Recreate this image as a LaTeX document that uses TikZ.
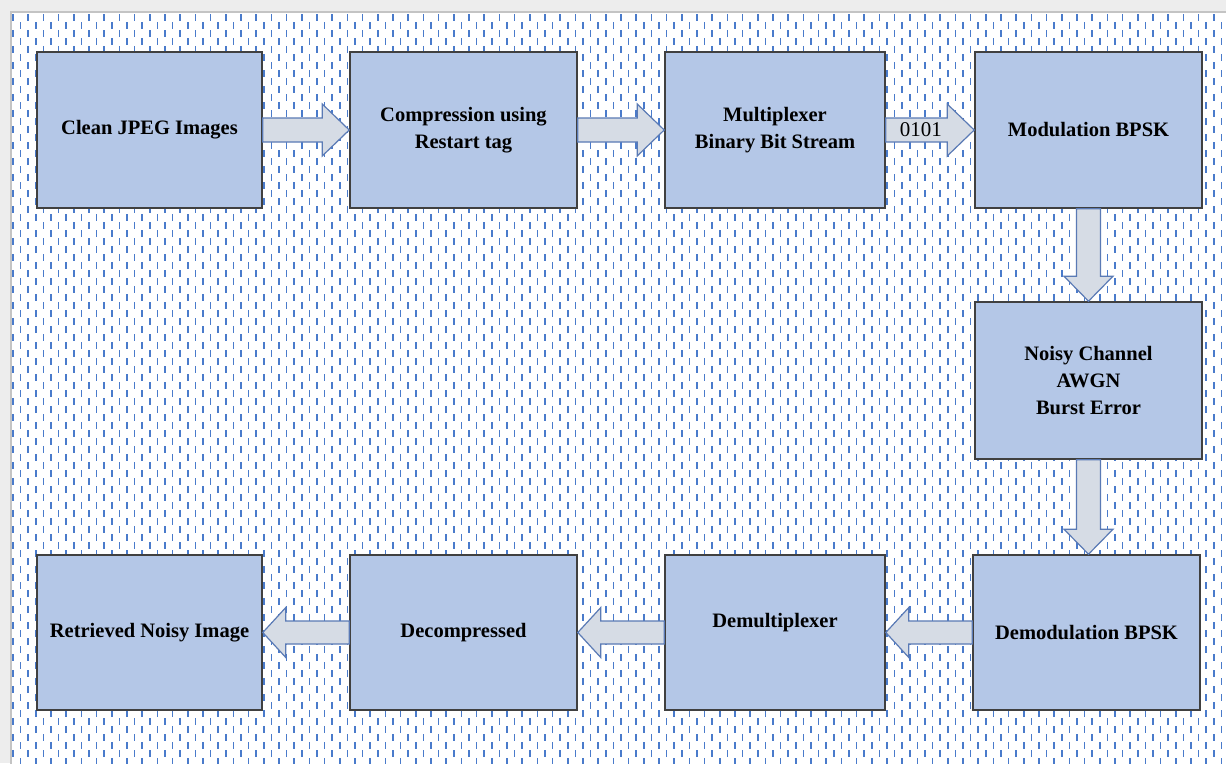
\documentclass[tikz,border=0pt]{standalone}
\usepackage{fontspec}
\setmainfont{Liberation Serif}
\usetikzlibrary{calc}
\definecolor{boxfill}{HTML}{B4C7E7}
\definecolor{boxline}{HTML}{404040}
\definecolor{arrfill}{HTML}{D6DCE5}
\definecolor{arrline}{HTML}{5A7AB5}
\definecolor{dashblue}{HTML}{4A7BCB}
\definecolor{outergray}{HTML}{EDEDED}
\definecolor{framegray}{HTML}{C4C4C4}
\tikzset{
  stepbox/.style={draw=boxline, line width=1.6pt, fill=boxfill, align=center,
    font=\fontsize{20.5}{27}\selectfont\bfseries, inner sep=0pt},
  barrow/.style={draw=arrline, line width=1.2pt, fill=arrfill, line join=miter},
  dashline/.style={draw=dashblue, line width=1.5pt, dash pattern=on 6.5pt off 9.5pt},
  lbl/.style={font=\fontsize{21}{24}\selectfont, inner sep=0pt}
}
% block arrows between named nodes
\newcommand{\blkR}[2]{%
  \draw[barrow] ($(#1.east)+(0,-12)$) -- ($(#2.west |- #1.east)+(-27,-12)$)
    -- ($(#2.west |- #1.east)+(-27,-26)$) -- (#2.west |- #1.east)
    -- ($(#2.west |- #1.east)+(-27,26)$) -- ($(#2.west |- #1.east)+(-27,12)$)
    -- ($(#1.east)+(0,12)$) -- cycle;}
\newcommand{\blkL}[2]{%
  \draw[barrow] ($(#1.west)+(0,-11.5)$) -- ($(#2.east |- #1.west)+(23,-11.5)$)
    -- ($(#2.east |- #1.west)+(23,-25)$) -- (#2.east |- #1.west)
    -- ($(#2.east |- #1.west)+(23,25)$) -- ($(#2.east |- #1.west)+(23,11.5)$)
    -- ($(#1.west)+(0,11.5)$) -- cycle;}
\newcommand{\blkD}[2]{%
  \draw[barrow] ($(#1.south)+(-12,0)$) -- ($(#1.south |- #2.north)+(-12,-25)$)
    -- ($(#1.south |- #2.north)+(-24.5,-25)$) -- (#1.south |- #2.north)
    -- ($(#1.south |- #2.north)+(24.5,-25)$) -- ($(#1.south |- #2.north)+(12,-25)$)
    -- ($(#1.south)+(12,0)$) -- cycle;}
\begin{document}
\begin{tikzpicture}[x=1pt,y=-1pt]
\useasboundingbox (0,0) rectangle (1226,763);
\begin{scope}
\clip (0,0) rectangle (1226,763);
\fill[outergray] (0,0) rectangle (1226,763);
\filldraw[fill=white, draw=framegray, line width=1.2pt] (11,12) rectangle (1240,780);
\foreach \i [evaluate=\i as \xx using {13+7.6*\i}, evaluate=\i as \ph using {8*mod(\i,2)}] in {0,...,160}
  \draw[dashline, dash phase=\ph pt] (\xx,14) -- (\xx,766);
\end{scope}

% top row
\node[stepbox, minimum width=225pt, minimum height=156pt] (clean) at (149.5,130) {Clean JPEG Images};
\node[stepbox, minimum width=227pt, minimum height=156pt] (comp) at (463.5,130) {Compression using\\Restart tag};
\node[stepbox, minimum width=220pt, minimum height=156pt] (mux) at (775,130) {Multiplexer\\Binary Bit Stream};
\node[stepbox, minimum width=227pt, minimum height=156pt] (mod) at (1088.5,130) {Modulation BPSK};
% right column
\node[stepbox, minimum width=227pt, minimum height=157pt] (noisy) at (1088.5,380.5) {Noisy Channel\\AWGN\\Burst Error};
% bottom row
\node[stepbox, minimum width=227pt, minimum height=155pt] (demod) at (1086.5,632.5) {Demodulation BPSK};
\node[stepbox, minimum width=220pt, minimum height=155pt, text depth=24pt] (demux) at (775,632.5) {Demultiplexer};
\node[stepbox, minimum width=227pt, minimum height=155pt] (decomp) at (463.5,632.5) {Decompressed};
\node[stepbox, minimum width=225pt, minimum height=155pt] (retr) at (149.5,632.5) {Retrieved Noisy Image};

% block arrows
\blkR{clean}{comp}
\blkR{comp}{mux}
\blkR{mux}{mod}
\node[lbl] (bits) at ($(mux.east)+(35,0)$) {0101};
\blkD{mod}{noisy}
\blkD{noisy}{demod}
\blkL{demod}{demux}
\blkL{demux}{decomp}
\blkL{decomp}{retr}
\end{tikzpicture}
\end{document}
